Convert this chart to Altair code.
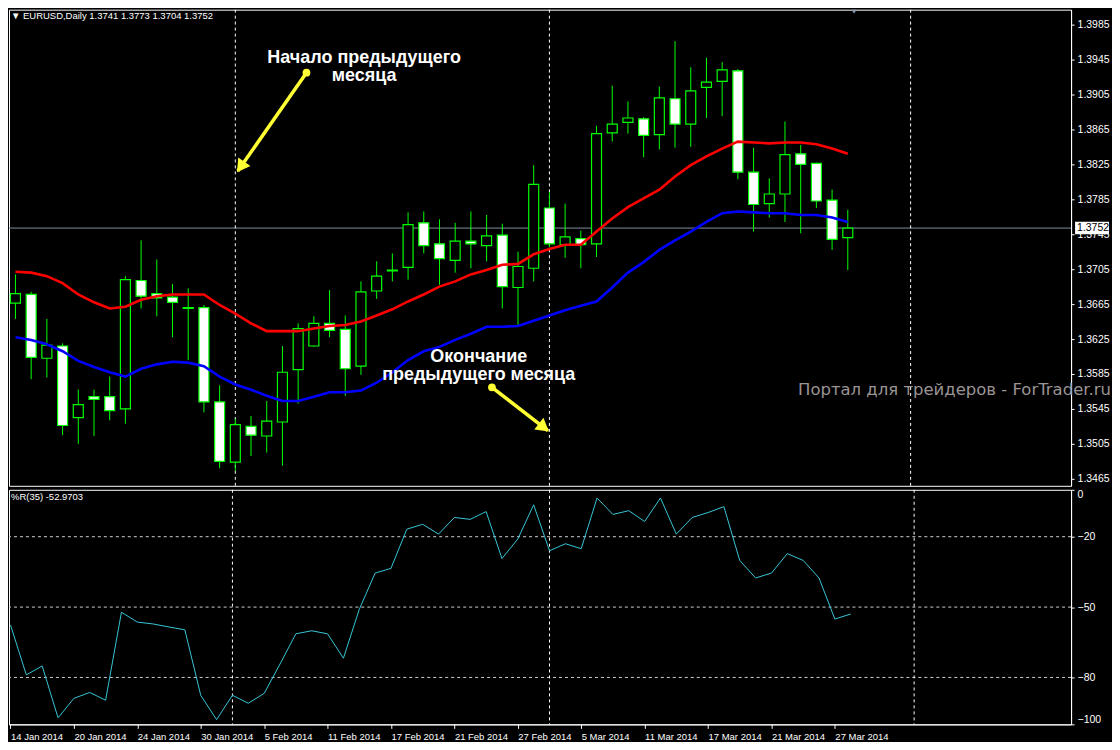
import altair as alt
import pandas as pd

# ---------------- data ----------------
opens = [1.3666, 1.3676, 1.3603, 1.3617, 1.3535, 1.3559, 1.3559, 1.3545, 1.3692, 1.3677,
         1.3673, 1.3661, 1.3661, 1.3553, 1.3484, 1.3525, 1.3514, 1.3530, 1.3590, 1.3617,
         1.3643, 1.3636, 1.3594, 1.3680, 1.3703, 1.3707, 1.3758, 1.3734, 1.3715, 1.3737,
         1.3732, 1.3744, 1.3684, 1.3706, 1.3775, 1.3733, 1.3740, 1.3734, 1.3861, 1.3873,
         1.3877, 1.3859, 1.3900, 1.3871, 1.3913, 1.3920, 1.3932, 1.3816, 1.3780, 1.3791,
         1.3837, 1.3826, 1.3784, 1.3741]
highs = [1.3699, 1.3679, 1.3648, 1.3620, 1.3567, 1.3567, 1.3582, 1.3697, 1.3738, 1.3716,
         1.3688, 1.3683, 1.3664, 1.3572, 1.3534, 1.3537, 1.3554, 1.3617, 1.3643, 1.3651,
         1.3681, 1.3652, 1.3691, 1.3714, 1.3723, 1.3770, 1.3771, 1.3762, 1.3758, 1.3771,
         1.3767, 1.3757, 1.3725, 1.3824, 1.3793, 1.3780, 1.3749, 1.3869, 1.3915, 1.3897,
         1.3879, 1.3914, 1.3966, 1.3936, 1.3947, 1.3942, 1.3934, 1.3844, 1.3809, 1.3874,
         1.3847, 1.3827, 1.3796, 1.3773]
lows = [1.3648, 1.3579, 1.3581, 1.3515, 1.3505, 1.3514, 1.3532, 1.3528, 1.3660, 1.3651,
        1.3627, 1.3601, 1.3541, 1.3477, 1.3474, 1.3491, 1.3495, 1.3480, 1.3551, 1.3616,
        1.3627, 1.3560, 1.3584, 1.3671, 1.3691, 1.3693, 1.3723, 1.3687, 1.3701, 1.3706,
        1.3714, 1.3660, 1.3641, 1.3691, 1.3730, 1.3718, 1.3706, 1.3719, 1.3851, 1.3860,
        1.3833, 1.3842, 1.3844, 1.3845, 1.3878, 1.3880, 1.3808, 1.3748, 1.3764, 1.3759,
        1.3746, 1.3775, 1.3727, 1.3704]
closes = [1.3677, 1.3604, 1.3618, 1.3526, 1.3550, 1.3556, 1.3543, 1.3693, 1.3674, 1.3672,
          1.3667, 1.3660, 1.3553, 1.3485, 1.3527, 1.3515, 1.3531, 1.3587, 1.3637, 1.3643,
          1.3635, 1.3591, 1.3679, 1.3697, 1.3704, 1.3756, 1.3732, 1.3717, 1.3737, 1.3734,
          1.3743, 1.3685, 1.3708, 1.3802, 1.3734, 1.3742, 1.3733, 1.3860, 1.3871, 1.3878,
          1.3858, 1.3901, 1.3871, 1.3909, 1.3919, 1.3933, 1.3816, 1.3779, 1.3791, 1.3836,
          1.3825, 1.3783, 1.3739, 1.3752]
ma_red = [1.3702, 1.3701, 1.3697, 1.3689, 1.3676, 1.3667, 1.3660, 1.3662, 1.3670, 1.3674,
          1.3676, 1.3676, 1.3676, 1.3664, 1.3654, 1.3643, 1.3634, 1.3634, 1.3634, 1.3637,
          1.3640, 1.3641, 1.3645, 1.3652, 1.3659, 1.3668, 1.3676, 1.3685, 1.3691, 1.3699,
          1.3704, 1.3710, 1.3711, 1.3722, 1.3728, 1.3733, 1.3733, 1.3748, 1.3763, 1.3776,
          1.3786, 1.3796, 1.3811, 1.3824, 1.3834, 1.3843, 1.3851, 1.3850, 1.3849, 1.3850,
          1.3850, 1.3848, 1.3843, 1.3837]
ma_blue = [1.3627, 1.3624, 1.3619, 1.3611, 1.3600, 1.3593, 1.3587, 1.3582, 1.3591, 1.3596,
           1.3599, 1.3598, 1.3594, 1.3582, 1.3573, 1.3567, 1.3560, 1.3554, 1.3554, 1.3559,
           1.3564, 1.3564, 1.3566, 1.3575, 1.3587, 1.3601, 1.3611, 1.3616, 1.3624, 1.3631,
           1.3639, 1.3639, 1.3640, 1.3646, 1.3652, 1.3658, 1.3663, 1.3668, 1.3684, 1.3701,
           1.3713, 1.3727, 1.3738, 1.3748, 1.3759, 1.3769, 1.3771, 1.3770, 1.3769, 1.3769,
           1.3767, 1.3767, 1.3764, 1.3759]
wpr = [-57.6, -78.9, -75.1, -97.2, -88.9, -86.4, -89.7, -52.2, -56.4, -57.2,
       -58.5, -59.7, -87.6, -98.0, -87.6, -91.0, -86.8, -74.3, -61.4, -60.1,
       -61.4, -71.8, -51.0, -35.5, -33.5, -16.8, -14.7, -18.9, -11.8, -12.6,
       -9.3, -29.3, -21.0, -6.4, -26.0, -23.0, -25.1, -3.5, -10.5, -8.9,
       -13.5, -3.5, -18.9, -11.8, -9.7, -7.2, -30.1, -37.6, -35.5, -27.2,
       -30.1, -37.6, -55.1, -52.97]

date_tick_bars = [0, 4, 8, 12, 16, 20, 24, 28, 32, 36, 40, 44, 48, 52]
date_labels = ["14 Jan 2014", "20 Jan 2014", "24 Jan 2014", "30 Jan 2014", "5 Feb 2014",
               "11 Feb 2014", "17 Feb 2014", "21 Feb 2014", "27 Feb 2014", "5 Mar 2014",
               "11 Mar 2014", "17 Mar 2014", "21 Mar 2014", "27 Mar 2014"]
price_ticks = [1.3465, 1.3505, 1.3545, 1.3585, 1.3625, 1.3665, 1.3705, 1.3745,
               1.3785, 1.3825, 1.3865, 1.3905, 1.3945, 1.3985]
wpr_ticks = [0, -20, -50, -80, -100]
wpr_levels = [-20, -50, -80]
month_separators = [14, 34, 57]
last_price = 1.3752

# ---------------- layout ----------------
W = 1064
H1 = 477
H2 = 235
FONT = "Liberation Sans"
x_scale = alt.Scale(domain=[-0.094, 66.9], nice=False, zero=False)
p_scale = alt.Scale(domain=[1.3457, 1.4002], nice=False, zero=False)
r_scale = alt.Scale(domain=[-100, 0], nice=False, zero=False)

price_axis = alt.Axis(orient="right", values=price_ticks, format=".4f", title=None,
                      labelFlush=False)
wpr_axis = alt.Axis(orient="right", values=wpr_ticks, format="d", title=None,
                    labelFlush=True)
label_expr = "[" + ",".join("'" + s + "'" for s in date_labels) + "][round(datum.value / 4)]"
x_axis = alt.Axis(values=date_tick_bars, labelExpr=label_expr, labelAlign="left",
                  labelFlush=False, title=None, orient="bottom", labelPadding=3,
                  labelOverlap=False, labelFontSize=9.5, tickSize=4)

n = len(opens)
df = pd.DataFrame({
    "i": list(range(n)), "open": opens, "high": highs, "low": lows, "close": closes,
    "ma_red": ma_red, "ma_blue": ma_blue, "wpr": wpr,
})
df["dir"] = ["up" if c >= o else "down" for o, c in zip(opens, closes)]

X = alt.X("i:Q", scale=x_scale, axis=None)

def PY(field):
    return alt.Y(field, scale=p_scale, axis=price_axis)

wicks = alt.Chart(df).mark_rule(color="#00ff00", strokeWidth=1, clip=True).encode(
    x=X, y=PY("low:Q"), y2="high:Q")
bodies = alt.Chart(df).mark_bar(size=10, stroke="#00ff00", strokeWidth=1.2, clip=True).encode(
    x=X, y=PY("open:Q"), y2="close:Q",
    fill=alt.Fill("dir:N", scale=alt.Scale(domain=["up", "down"], range=["#000000", "#ffffff"]),
                  legend=None))
red_line = alt.Chart(df).mark_line(color="#ff0000", strokeWidth=2.6, clip=True).encode(
    x=X, y=PY("ma_red:Q"))
blue_line = alt.Chart(df).mark_line(color="#0000ff", strokeWidth=2.6, clip=True).encode(
    x=X, y=PY("ma_blue:Q"))

sep_df = pd.DataFrame({"i": month_separators})
sep_top = alt.Chart(sep_df).mark_rule(color="#ffffff", strokeDash=[3, 3], strokeWidth=1).encode(
    x=alt.X("i:Q", scale=x_scale, axis=None))

lp_df = pd.DataFrame({"p": [last_price], "lo": [last_price - 0.00072], "hi": [last_price + 0.00072],
                      "t": ["1.3752"]})
price_line = alt.Chart(lp_df).mark_rule(color="#7f8ea0", strokeWidth=1).encode(y=PY("p:Q"))
price_box = alt.Chart(lp_df).mark_rect(color="#ffffff").encode(
    x=alt.value(W + 4), x2=alt.value(W + 38), y=PY("lo:Q"), y2="hi:Q")
price_txt = alt.Chart(lp_df).mark_text(color="#000000", font=FONT, fontSize=10.5, align="left",
                                       baseline="middle").encode(
    x=alt.value(W + 6), y=PY("p:Q"), text="t:N")

ann_df = pd.DataFrame({
    "i": [22.2, 29.5],
    "p": [1.394675, 1.36046],
    "t": ["Начало предыдущего\nмесяца", "Окончание\nпредыдущего месяца"],
})
ann = alt.Chart(ann_df).mark_text(color="#ffffff", font=FONT, fontSize=18, fontWeight="bold",
                                  align="center", baseline="middle", lineBreak="\n",
                                  lineHeight=18).encode(
    x=alt.X("i:Q", scale=x_scale, axis=None), y=PY("p:Q"), text="t:N")

arrow_df = pd.DataFrame({
    "i0": [18.53, 30.34], "p0": [1.39299, 1.35697],
    "i1": [14.16, 33.90], "p1": [1.38173, 1.35202],
})
head_df = pd.DataFrame({"i": [14.34, 33.65], "p": [1.38220, 1.35237], "a": [215, 128]})
YEL = "#ffff33"
shafts = alt.Chart(arrow_df).mark_rule(color=YEL, strokeWidth=3.5).encode(
    x=alt.X("i0:Q", scale=x_scale, axis=None), x2="i1:Q", y=PY("p0:Q"), y2="p1:Q")
dots = alt.Chart(arrow_df).mark_point(color=YEL, filled=True, opacity=1, size=60).encode(
    x=alt.X("i0:Q", scale=x_scale, axis=None), y=PY("p0:Q"))
heads = alt.Chart(head_df).mark_point(shape="triangle-up", color=YEL, filled=True, opacity=1,
                                      size=220).encode(
    x=alt.X("i:Q", scale=x_scale, axis=None), y=PY("p:Q"), angle=alt.Angle("a:Q", scale=None))

wm_df = pd.DataFrame({"t": ["Портал для трейдеров - ForTrader.ru"], "p": [1.35665]})
watermark = alt.Chart(wm_df).mark_text(color="#9a9494", font="DejaVu Sans", fontSize=16.5,
                                       align="right", baseline="middle").encode(
    x=alt.value(W + 40), y=PY("p:Q"), text="t:N")

hdr_df = pd.DataFrame({"t": ["▼ EURUSD,Daily  1.3741 1.3773 1.3704 1.3752"]})
header = alt.Chart(hdr_df).mark_text(color="#ffffff", font=FONT, fontSize=9.5, align="left",
                                     baseline="middle").encode(
    x=alt.value(2), y=alt.value(6), text="t:N")

shift_df = pd.DataFrame({"i": [53.4], "p": [1.40005]})
shift_mark = alt.Chart(shift_df).mark_point(shape="triangle-down", color="#8a9aae", filled=True,
                                            opacity=1, size=45, clip=True).encode(
    x=alt.X("i:Q", scale=x_scale, axis=None), y=PY("p:Q"))

top = alt.layer(
    price_line, sep_top, wicks, bodies, red_line, blue_line, ann, shafts, dots, heads,
    watermark, header, shift_mark, price_box, price_txt,
).properties(width=W, height=H1)

# ---------------- %R panel ----------------
XB = alt.X("i:Q", scale=x_scale, axis=x_axis)
lvl_df = pd.DataFrame({"v": wpr_levels})
levels = alt.Chart(lvl_df).mark_rule(color="#d0d0d0", strokeDash=[3, 3], strokeWidth=1).encode(
    y=alt.Y("v:Q", scale=r_scale, axis=wpr_axis))
sep_bot = alt.Chart(sep_df).mark_rule(color="#ffffff", strokeDash=[3, 3], strokeWidth=1).encode(
    x=XB)
wpr_line = alt.Chart(df).mark_line(color="#36c6d6", strokeWidth=1, clip=True).encode(
    x=XB, y=alt.Y("wpr:Q", scale=r_scale, axis=wpr_axis))
wpr_hdr = alt.Chart(pd.DataFrame({"t": ["%R(35) -52.9703"]})).mark_text(
    color="#ffffff", font=FONT, fontSize=9.5, align="left", baseline="middle").encode(
    x=alt.value(2), y=alt.value(7), text="t:N")

bottom = alt.layer(levels, sep_bot, wpr_line, wpr_hdr).properties(width=W, height=H2)

chart = alt.vconcat(top, bottom, spacing=2).properties(
    padding=0, background="#000000"
).configure_view(
    stroke="#ffffff", strokeWidth=1
).configure_axis(
    labelFont=FONT, labelFontSize=10.5, labelColor="#ffffff", tickColor="#ffffff",
    domainColor="#ffffff", grid=False, tickSize=3, labelPadding=3
)

chart.save("out.html", embed_options={"renderer": "svg", "actions": False})
